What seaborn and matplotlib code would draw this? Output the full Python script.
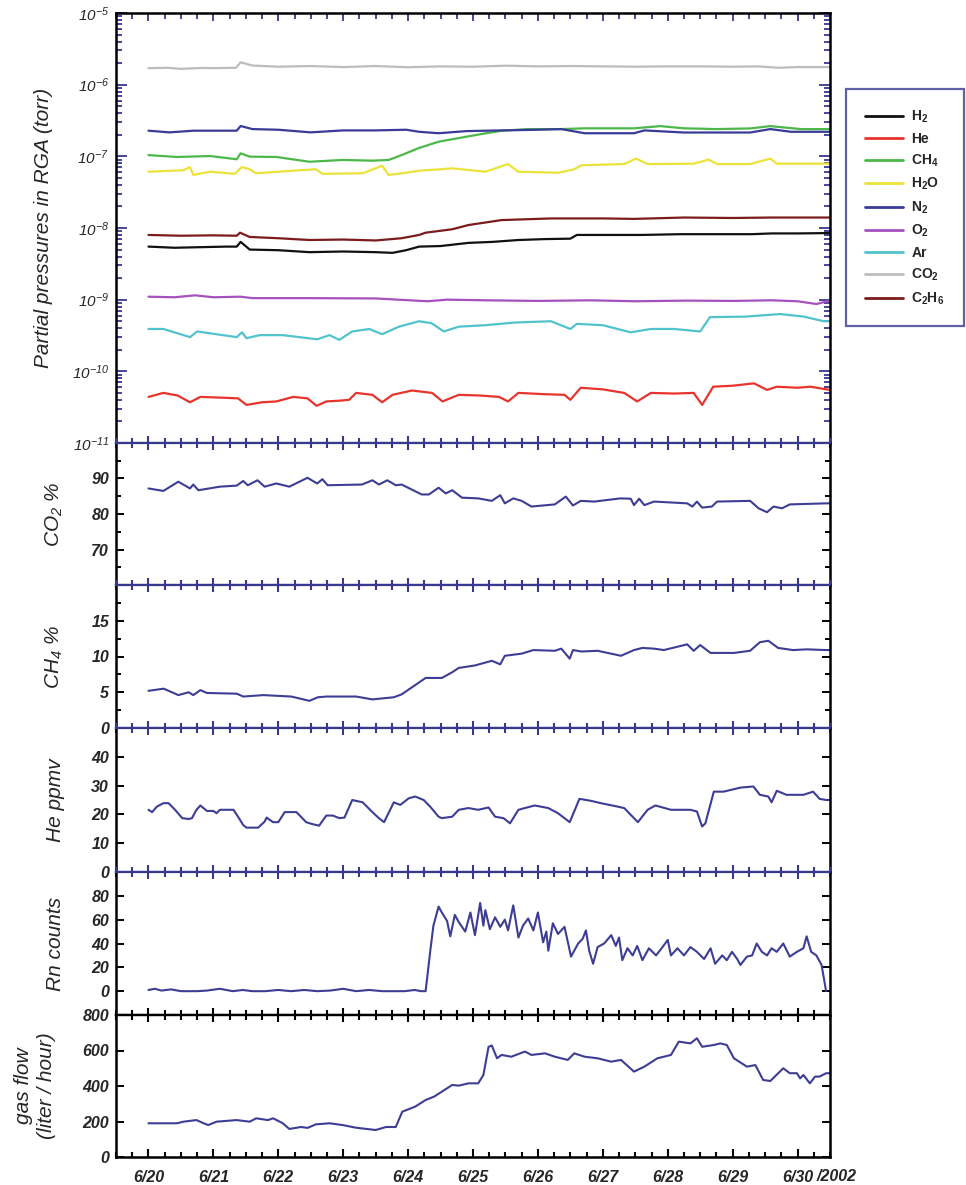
import numpy as np
import pandas as pd
import matplotlib
matplotlib.use("Agg")
import matplotlib.pyplot as plt
import seaborn as sns
from matplotlib.ticker import FixedLocator, FixedFormatter, LogLocator, NullFormatter, MultipleLocator

# days after 6/20 00:00, partial pressures (torr)
h2_t = [0, 0.4, 0.8, 1.2, 1.36, 1.42, 1.56, 2.0, 2.48, 3.0, 3.5, 3.76, 3.97, 4.17, 4.5, 4.93, 5.3, 5.7, 6.1, 6.5, 6.6, 7.0, 7.6, 8.2, 8.8, 9.3, 9.6, 10.0, 10.5]
h2_p = np.array([5.5, 5.3, 5.4, 5.5, 5.5, 6.4, 5.0, 4.9, 4.6, 4.7, 4.6, 4.5, 4.9, 5.5, 5.6, 6.2, 6.4, 6.8, 7.0, 7.1, 8.0, 8.0, 8.0, 8.2, 8.2, 8.2, 8.4, 8.4, 8.5]) * 1e-9

he_t = [0, 0.23, 0.45, 0.64, 0.8, 1.1, 1.38, 1.51, 1.75, 1.97, 2.23, 2.45, 2.59, 2.74, 2.95, 3.09, 3.2, 3.45, 3.6, 3.76, 4.06, 4.37, 4.53, 4.78, 5.1, 5.4, 5.54, 5.7, 6.1, 6.41, 6.5, 6.66, 7.0, 7.33, 7.53, 7.74, 8.1, 8.4, 8.53, 8.7, 9.0, 9.33, 9.53, 9.68, 10.0, 10.2, 10.5]
he_p = np.array([4.4, 5.0, 4.6, 3.7, 4.4, 4.3, 4.2, 3.4, 3.7, 3.8, 4.4, 4.2, 3.3, 3.8, 3.9, 4.0, 5.0, 4.7, 3.7, 4.7, 5.4, 5.0, 3.8, 4.7, 4.6, 4.4, 3.8, 5.0, 4.8, 4.7, 4.0, 5.9, 5.6, 5.0, 3.8, 5.0, 4.9, 5.0, 3.4, 6.1, 6.3, 6.8, 5.5, 6.1, 5.9, 6.1, 5.5]) * 1e-11

ch4_t = [0, 0.44, 0.95, 1.36, 1.42, 1.56, 1.97, 2.48, 2.99, 3.45, 3.7, 3.9, 4.16, 4.47, 4.93, 5.2, 5.45, 5.85, 6.37, 6.72, 7.48, 7.89, 8.25, 8.76, 9.27, 9.58, 10.05, 10.5]
ch4_p = np.array([10.4, 9.8, 10.1, 9.1, 11.0, 9.9, 9.8, 8.4, 8.9, 8.7, 8.9, 10.4, 13.0, 16.0, 19.0, 21.0, 22.8, 24.0, 24.0, 24.6, 24.6, 26.4, 24.6, 24.0, 24.5, 26.4, 24.0, 24.0]) * 1e-8

h2o_t = [0, 0.54, 0.64, 0.69, 0.95, 1.33, 1.44, 1.56, 1.66, 2.22, 2.58, 2.68, 3.3, 3.5, 3.6, 3.7, 3.97, 4.17, 4.5, 4.68, 5.19, 5.54, 5.7, 6.31, 6.56, 6.67, 7.33, 7.51, 7.69, 8.4, 8.63, 8.76, 9.27, 9.58, 9.68, 10.0, 10.5]
h2o_p = np.array([6.1, 6.4, 7.1, 5.5, 6.1, 5.7, 7.1, 6.6, 5.8, 6.3, 6.6, 5.7, 5.8, 6.8, 7.4, 5.5, 5.9, 6.3, 6.6, 6.8, 6.1, 7.8, 6.1, 5.9, 6.6, 7.5, 7.8, 9.3, 7.8, 7.9, 9.0, 7.8, 7.8, 9.3, 7.9, 7.9, 7.9]) * 1e-8

n2_t = [0, 0.32, 0.7, 1.36, 1.42, 1.6, 2.0, 2.5, 3.0, 3.5, 3.97, 4.17, 4.47, 4.9, 5.44, 6.0, 6.36, 6.72, 7.48, 7.64, 8.25, 9.27, 9.58, 9.9, 10.5]
n2_p = np.array([2.28, 2.16, 2.28, 2.28, 2.65, 2.4, 2.35, 2.16, 2.3, 2.3, 2.35, 2.2, 2.1, 2.25, 2.3, 2.35, 2.4, 2.1, 2.1, 2.3, 2.15, 2.15, 2.4, 2.2, 2.2]) * 1e-7

o2_t = [0, 0.4, 0.72, 1.0, 1.42, 1.6, 2.5, 3.5, 4.3, 4.6, 5.2, 6.0, 6.8, 7.5, 8.3, 9.0, 9.6, 10.0, 10.29, 10.5]
o2_p = np.array([1.10, 1.08, 1.15, 1.08, 1.10, 1.05, 1.05, 1.04, 0.95, 1.0, 0.98, 0.96, 0.98, 0.95, 0.97, 0.96, 0.98, 0.95, 0.87, 0.97]) * 1e-9

ar_t = [0, 0.23, 0.64, 0.75, 1.36, 1.44, 1.51, 1.71, 2.07, 2.6, 2.79, 2.94, 3.14, 3.4, 3.6, 3.86, 4.17, 4.36, 4.55, 4.78, 5.19, 5.65, 6.2, 6.5, 6.6, 7.0, 7.43, 7.74, 8.1, 8.5, 8.65, 9.2, 9.73, 10.1, 10.4, 10.5]
ar_p = np.array([3.9, 3.9, 3.0, 3.6, 3.0, 3.5, 2.9, 3.2, 3.2, 2.8, 3.2, 2.75, 3.6, 3.9, 3.3, 4.2, 5.0, 4.7, 3.6, 4.2, 4.4, 4.8, 5.0, 3.9, 4.6, 4.4, 3.5, 3.9, 3.9, 3.6, 5.7, 5.8, 6.3, 5.8, 5.0, 5.0]) * 1e-10

co2_t = [0, 0.3, 0.5, 0.8, 1.0, 1.35, 1.42, 1.6, 2.0, 2.5, 3.0, 3.5, 4.0, 4.5, 5.0, 5.5, 6.0, 6.5, 7.0, 7.5, 8.0, 8.5, 9.0, 9.4, 9.7, 10.0, 10.5]
co2_p = np.array([1.70, 1.72, 1.66, 1.71, 1.70, 1.72, 2.05, 1.85, 1.78, 1.82, 1.76, 1.82, 1.75, 1.80, 1.78, 1.84, 1.80, 1.82, 1.80, 1.78, 1.80, 1.80, 1.78, 1.80, 1.72, 1.76, 1.76]) * 1e-6

c2h6_t = [0, 0.5, 1.0, 1.36, 1.41, 1.56, 2.0, 2.48, 3.0, 3.5, 3.9, 4.17, 4.27, 4.68, 4.93, 5.44, 6.21, 7.0, 7.48, 8.25, 9.0, 9.6, 10.5]
c2h6_p = np.array([8.0, 7.8, 7.9, 7.8, 8.6, 7.5, 7.2, 6.8, 6.9, 6.7, 7.2, 8.0, 8.6, 9.6, 11.0, 12.9, 13.6, 13.6, 13.4, 14.0, 13.8, 14.0, 14.0]) * 1e-9

# lower panels
co2pct_t = [0, 0.23, 0.46, 0.64, 0.69, 0.77, 1.1, 1.36, 1.46, 1.53, 1.68, 1.79, 1.97, 2.17, 2.45, 2.6, 2.68, 2.76, 3.29, 3.45, 3.55, 3.68, 3.81, 3.9, 4.21, 4.32, 4.47, 4.58, 4.68, 4.83, 5.08, 5.29, 5.42, 5.49, 5.62, 5.75, 5.9, 6.26, 6.43, 6.54, 6.66, 6.87, 7.27, 7.43, 7.48, 7.56, 7.64, 7.79, 8.3, 8.38, 8.45, 8.53, 8.68, 8.76, 9.27, 9.4, 9.53, 9.63, 9.76, 9.88, 10.44, 10.5]
co2pct_v = [87.2, 86.5, 89.1, 87.2, 88.3, 86.7, 87.7, 88.0, 89.3, 88.1, 89.5, 87.7, 88.6, 87.7, 90.2, 88.6, 89.8, 88.1, 88.3, 89.5, 88.3, 89.5, 88.1, 88.3, 85.5, 85.5, 87.4, 85.8, 86.7, 84.6, 84.4, 83.7, 85.3, 83.0, 84.4, 83.7, 82.1, 82.7, 84.9, 82.4, 83.7, 83.5, 84.4, 84.3, 82.5, 84.3, 82.5, 83.5, 83.0, 82.1, 83.5, 81.8, 82.1, 83.5, 83.7, 81.6, 80.5, 82.1, 81.6, 82.7, 83.0, 83.0]

ch4pct_t = [0, 0.235, 0.46, 0.62, 0.69, 0.8, 0.9, 1.36, 1.46, 1.77, 2.2, 2.48, 2.61, 2.74, 3.2, 3.45, 3.78, 3.9, 4.27, 4.52, 4.68, 4.78, 5.03, 5.29, 5.42, 5.49, 5.75, 5.93, 6.26, 6.36, 6.49, 6.54, 6.67, 6.92, 7.28, 7.48, 7.61, 7.79, 7.94, 8.3, 8.4, 8.5, 8.66, 9.02, 9.27, 9.42, 9.55, 9.7, 9.93, 10.14, 10.44, 10.5]
ch4pct_v = [5.2, 5.5, 4.6, 5.0, 4.6, 5.3, 4.9, 4.8, 4.4, 4.6, 4.4, 3.8, 4.3, 4.4, 4.4, 4.0, 4.3, 4.7, 7.0, 7.0, 7.8, 8.4, 8.75, 9.4, 8.9, 10.1, 10.4, 10.9, 10.8, 11.1, 9.7, 10.9, 10.7, 10.8, 10.1, 10.9, 11.2, 11.1, 10.9, 11.7, 10.8, 11.6, 10.5, 10.5, 10.8, 12.0, 12.2, 11.2, 10.9, 11.0, 10.9, 10.9]

heppm_t = [0, 0.056, 0.13, 0.23, 0.31, 0.41, 0.52, 0.62, 0.67, 0.74, 0.8, 0.9, 1.0, 1.05, 1.1, 1.31, 1.38, 1.46, 1.51, 1.69, 1.79, 1.82, 1.92, 2.0, 2.1, 2.28, 2.43, 2.53, 2.63, 2.74, 2.84, 2.94, 3.02, 3.14, 3.3, 3.45, 3.55, 3.63, 3.78, 3.88, 4.01, 4.11, 4.24, 4.34, 4.47, 4.52, 4.68, 4.78, 4.93, 5.08, 5.24, 5.34, 5.47, 5.57, 5.7, 5.8, 5.95, 6.16, 6.31, 6.49, 6.64, 6.82, 6.97, 7.23, 7.33, 7.54, 7.69, 7.81, 8.05, 8.35, 8.45, 8.53, 8.58, 8.71, 8.86, 9.12, 9.32, 9.42, 9.55, 9.6, 9.68, 9.83, 10.09, 10.24, 10.34, 10.44, 10.5]
heppm_v = [21.6, 20.8, 22.7, 23.9, 23.9, 21.6, 18.7, 18.4, 18.7, 21.6, 23.1, 21.2, 21.2, 20.4, 21.6, 21.6, 19.2, 16.3, 15.4, 15.4, 17.5, 18.9, 17.3, 17.3, 20.8, 20.8, 17.3, 16.6, 16.1, 19.6, 19.6, 18.7, 18.9, 25.0, 24.2, 20.8, 18.7, 17.3, 24.2, 23.3, 25.6, 26.2, 25.0, 22.7, 19.2, 18.7, 19.2, 21.6, 22.2, 21.6, 22.4, 19.2, 18.7, 16.9, 21.6, 22.2, 23.1, 22.2, 20.4, 17.3, 25.4, 24.7, 23.9, 22.7, 22.2, 17.3, 21.6, 23.1, 21.6, 21.6, 21.0, 15.8, 16.9, 27.9, 27.9, 29.3, 29.7, 26.8, 26.2, 24.2, 28.2, 26.8, 26.8, 27.9, 25.4, 25.0, 25.0]

rn_t = [0, 0.1, 0.2, 0.35, 0.5, 0.6, 0.75, 0.9, 1.1, 1.3, 1.45, 1.6, 1.8, 2.0, 2.2, 2.4, 2.6, 2.8, 3.0, 3.2, 3.4, 3.6, 3.8, 3.95, 4.1, 4.2, 4.27,
        4.34, 4.39, 4.47, 4.52, 4.6, 4.65, 4.72, 4.78, 4.88, 4.96, 5.03, 5.11, 5.16, 5.19, 5.26, 5.34, 5.42, 5.49, 5.54, 5.62, 5.7, 5.77, 5.85, 5.93,
        6.0, 6.08, 6.13, 6.16, 6.23, 6.31, 6.41, 6.51, 6.62, 6.69, 6.74, 6.79, 6.85, 6.92, 7.02, 7.13, 7.2, 7.25, 7.3, 7.38, 7.46, 7.53, 7.61,
        7.71, 7.82, 7.92, 8.0, 8.05, 8.15, 8.25, 8.35, 8.45, 8.56, 8.66, 8.73, 8.84, 8.91, 8.99, 9.07, 9.12, 9.22, 9.3, 9.37, 9.45, 9.53, 9.6,
        9.68, 9.78, 9.88, 9.99, 10.09, 10.14, 10.21, 10.29, 10.37, 10.44]
rn_v = [1, 2, 0.5, 1.5, 0, 0, 0, 0.5, 2, 0, 1, 0, 0, 1, 0, 1, 0, 0.5, 2, 0, 1, 0, 0, 0, 1, 0, 0,
        33, 55, 71, 66, 59, 46, 64, 58, 50, 66, 47, 74, 55, 68, 52, 62, 54, 60, 51, 72, 45, 55, 61, 51,
        66, 41, 50, 34, 57, 48, 54, 29, 40, 44, 51, 34, 23, 37, 40, 47, 38, 45, 26, 36, 30, 38, 26,
        36, 30, 37, 43, 30, 36, 30, 37, 33, 27, 36, 23, 30, 26, 33, 27, 22, 29, 30, 40, 33, 30, 36,
        33, 40, 29, 33, 36, 46, 33, 30, 22, 0]

flow_t = [0, 0.44, 0.54, 0.74, 0.85, 0.92, 1.05, 1.36, 1.56, 1.66, 1.84, 1.92, 2.07, 2.17, 2.35, 2.45, 2.58, 2.79, 2.99, 3.2, 3.5, 3.66, 3.81, 3.91, 4.11, 4.27, 4.4, 4.52, 4.68, 4.78, 4.93,
          5.08, 5.16, 5.24, 5.29, 5.37, 5.44, 5.59, 5.8, 5.9, 6.11, 6.26, 6.46, 6.56, 6.72, 6.92, 7.13, 7.28, 7.48, 7.64, 7.84, 8.05, 8.17, 8.35, 8.45, 8.53,
          8.71, 8.81, 8.91, 9.02, 9.22, 9.35, 9.47, 9.58, 9.78, 9.88, 9.99, 10.04, 10.09, 10.19, 10.27, 10.34, 10.44, 10.5]
flow_v = [190, 190, 199, 208, 190, 180, 199, 208, 199, 218, 208, 218, 190, 158, 169, 164, 184, 190, 180, 165, 152, 169, 169, 255, 284, 321, 340, 368, 406, 402, 415,
          415, 462, 621, 628, 556, 575, 565, 594, 575, 584, 565, 547, 584, 565, 556, 537, 547, 481, 509, 556, 575, 650, 640, 669, 621,
          631, 640, 631, 556, 509, 518, 434, 428, 500, 472, 472, 443, 462, 415, 453, 453, 472, 472]

gases = ["H2", "He", "CH4", "H2O", "N2", "O2", "Ar", "CO2", "C2H6"]
gas_labels = [r"H$_\mathbf{2}$", "He", r"CH$_\mathbf{4}$", r"H$_\mathbf{2}$O", r"N$_\mathbf{2}$",
              r"O$_\mathbf{2}$", "Ar", r"CO$_\mathbf{2}$", r"C$_\mathbf{2}$H$_\mathbf{6}$"]
gas_colors = {"H2": "#111111", "He": "#e8342c", "CH4": "#4bb849", "H2O": "#ece33a",
              "N2": "#3a3a98", "O2": "#a552bd", "Ar": "#52c3cc", "CO2": "#bdbdbd", "C2H6": "#7b1b1b"}
day_labels = ["6/20", "6/21", "6/22", "6/23", "6/24", "6/25", "6/26", "6/27", "6/28", "6/29", "6/30"]

navy = "#38388f"
line_navy = "#3d3d96"

sns.set_style("ticks")
plt.rcParams["font.family"] = ["Liberation Sans", "DejaVu Sans"]
plt.rcParams["mathtext.fontset"] = "custom"
plt.rcParams["mathtext.rm"] = "Liberation Sans:style=italic"
plt.rcParams["mathtext.it"] = "Liberation Sans:style=italic:weight=bold"
plt.rcParams["mathtext.bf"] = "Liberation Sans:weight=bold"

series = {"H2": (h2_t, h2_p), "He": (he_t, he_p), "CH4": (ch4_t, ch4_p), "H2O": (h2o_t, h2o_p),
          "N2": (n2_t, n2_p), "O2": (o2_t, o2_p), "Ar": (ar_t, ar_p), "CO2": (co2_t, co2_p),
          "C2H6": (c2h6_t, c2h6_p)}
top_df = pd.concat([pd.DataFrame({"day": t, "torr": p, "gas": g}) for g, (t, p) in series.items()],
                   ignore_index=True)

W, H = 966, 1185
fig = plt.figure(figsize=(W / 100, H / 100), dpi=100)
fig.patch.set_facecolor("white")


def rect(top, bottom):
    return [116 / W, 1 - bottom / H, (830 - 116) / W, (bottom - top) / H]


tick_font = dict(family="Liberation Sans", weight="bold", style="italic", size=11.5)
label_font = dict(family="Liberation Sans", style="italic", size=15)

# ---- partial pressure panel
ax0 = fig.add_axes(rect(13, 443))
sns.lineplot(data=top_df, x="day", y="torr", hue="gas", hue_order=gases, palette=gas_colors,
             estimator=None, sort=False, lw=1.6, legend=False, ax=ax0)
ax0.set_yscale("log")
ax0.set_ylim(1e-11, 1e-5)
ax0.set_xlim(-0.5, 10.5)
decades = [1e-11, 1e-10, 1e-9, 1e-8, 1e-7, 1e-6, 1e-5]
ax0.yaxis.set_major_locator(FixedLocator(decades))
ax0.yaxis.set_major_formatter(FixedFormatter([r"$\mathit{10^{-%d}}$" % k for k in range(11, 4, -1)]))
ax0.yaxis.set_minor_locator(LogLocator(base=10, subs=np.arange(2, 10), numticks=20))
ax0.yaxis.set_minor_formatter(NullFormatter())
ax0.xaxis.set_major_locator(MultipleLocator(1))
ax0.xaxis.set_minor_locator(MultipleLocator(0.25))
ax0.tick_params(axis="y", which="both", direction="in", left=True, right=True, color=navy, width=1.3)
ax0.tick_params(axis="y", which="major", length=8, labelsize=11, pad=5)
ax0.tick_params(axis="y", which="minor", length=4.5)
ax0.tick_params(axis="x", which="both", direction="in", top=True, bottom=False,
                labelbottom=False, color=navy, width=1.3)
ax0.tick_params(axis="x", which="major", length=6)
ax0.tick_params(axis="x", which="minor", length=4.5)
for s in ["left", "right", "top"]:
    ax0.spines[s].set_color("black")
    ax0.spines[s].set_linewidth(1.8)
ax0.spines["bottom"].set_color(navy)
ax0.spines["bottom"].set_linewidth(1.6)
ax0.set_xlabel("")
ax0.set_ylabel("Partial pressures in RGA (torr)", **label_font)
ax0.yaxis.set_label_coords(-0.088, 0.5)

# ---- lower panels
panels = [
    (co2pct_t, co2pct_v, (60, 100), [70, 80, 90], [65, 75, 85, 95], r"CO$_2$ %", 443, 585, -0.072),
    (ch4pct_t, ch4pct_v, (0, 20), [0, 5, 10, 15], [2.5, 7.5, 12.5, 17.5], r"CH$_4$ %", 585, 728, -0.072),
    (heppm_t, heppm_v, (0, 50), [0, 10, 20, 30, 40], [], "He ppmv", 728, 872, -0.072),
    (rn_t, rn_v, (-20, 100), [0, 20, 40, 60, 80], [], "Rn counts", 872, 1015, -0.072),
    (flow_t, flow_v, (0, 800), [0, 200, 400, 600, 800], [], "gas flow\n(liter / hour)", 1015, 1157, -0.084),
]

axes = []
for i, (t, v, ylim, majors, minors, label, top, bottom, lx) in enumerate(panels):
    ax = fig.add_axes(rect(top, bottom))
    sns.lineplot(x=t, y=v, color=line_navy, lw=1.5, estimator=None, sort=False, ax=ax)
    ax.set_xlim(-0.5, 10.5)
    ax.set_ylim(*ylim)
    ax.yaxis.set_major_locator(FixedLocator(majors))
    ax.yaxis.set_minor_locator(FixedLocator(minors))
    ax.xaxis.set_major_locator(MultipleLocator(1))
    ax.xaxis.set_minor_locator(MultipleLocator(0.25))
    last = i == len(panels) - 1
    edge = "black" if last else navy
    for s in ["left", "right"]:
        ax.spines[s].set_color("black")
        ax.spines[s].set_linewidth(1.8)
    ax.spines["top"].set_color(edge)
    ax.spines["top"].set_linewidth(1.6)
    ax.spines["bottom"].set_color("black" if last else navy)
    ax.spines["bottom"].set_linewidth(1.8 if last else 1.6)
    ax.tick_params(axis="y", which="both", direction="in", left=True, right=True,
                   color="black", width=1.4)
    ax.tick_params(axis="y", which="major", length=6, pad=5)
    ax.tick_params(axis="y", which="minor", length=3.5)
    for lab in ax.get_yticklabels():
        lab.set(**tick_font)
    if not last:
        ax.tick_params(axis="x", which="both", direction="inout", top=True, bottom=False,
                       labelbottom=False, color=navy, width=1.5)
        ax.tick_params(axis="x", which="major", length=10.5)
        ax.tick_params(axis="x", which="minor", length=6.5)
    else:
        ax.tick_params(axis="x", which="both", direction="in", top=False, bottom=True,
                       color="black", width=1.5, pad=9)
        ax.tick_params(axis="x", which="major", length=5.5)
        ax.tick_params(axis="x", which="minor", length=3.5)
        ax.set_xticks(range(11))
        ax.set_xticklabels(day_labels)
        for lab in ax.get_xticklabels():
            lab.set(**tick_font)
        sec = ax.secondary_xaxis("top")
        sec.xaxis.set_major_locator(MultipleLocator(1))
        sec.xaxis.set_minor_locator(MultipleLocator(0.25))
        sec.tick_params(axis="x", which="both", direction="inout", color="black", width=1.5,
                        labeltop=False)
        sec.tick_params(axis="x", which="major", length=10.5)
        sec.tick_params(axis="x", which="minor", length=6.5)
        sec.spines["top"].set_color("black")
        sec.spines["top"].set_linewidth(1.6)
        ax.text(10.3, -0.088, "/2002", transform=ax.get_xaxis_transform(),
                ha="left", va="top", **tick_font)
    ax.set_xlabel("")
    ax.set_ylabel(label, linespacing=1.25, **label_font)
    ax.yaxis.set_label_coords(lx, 0.5)
    axes.append(ax)

handles = ax0.get_lines()[:len(gases)]
leg = fig.legend(handles, gas_labels, loc="upper left", bbox_to_anchor=(846 / W, 1 - 89 / H),
                 frameon=True, fancybox=False, edgecolor=navy, borderaxespad=0,
                 prop={"family": "Liberation Sans", "weight": "bold", "size": 10},
                 handlelength=2.7, handletextpad=0.6, labelspacing=0.5, borderpad=1.4)
leg.get_frame().set_linewidth(1.6)
for h in leg.legend_handles:
    h.set_linewidth(2.0)

fig.savefig("out.png", dpi=100, facecolor="white")
